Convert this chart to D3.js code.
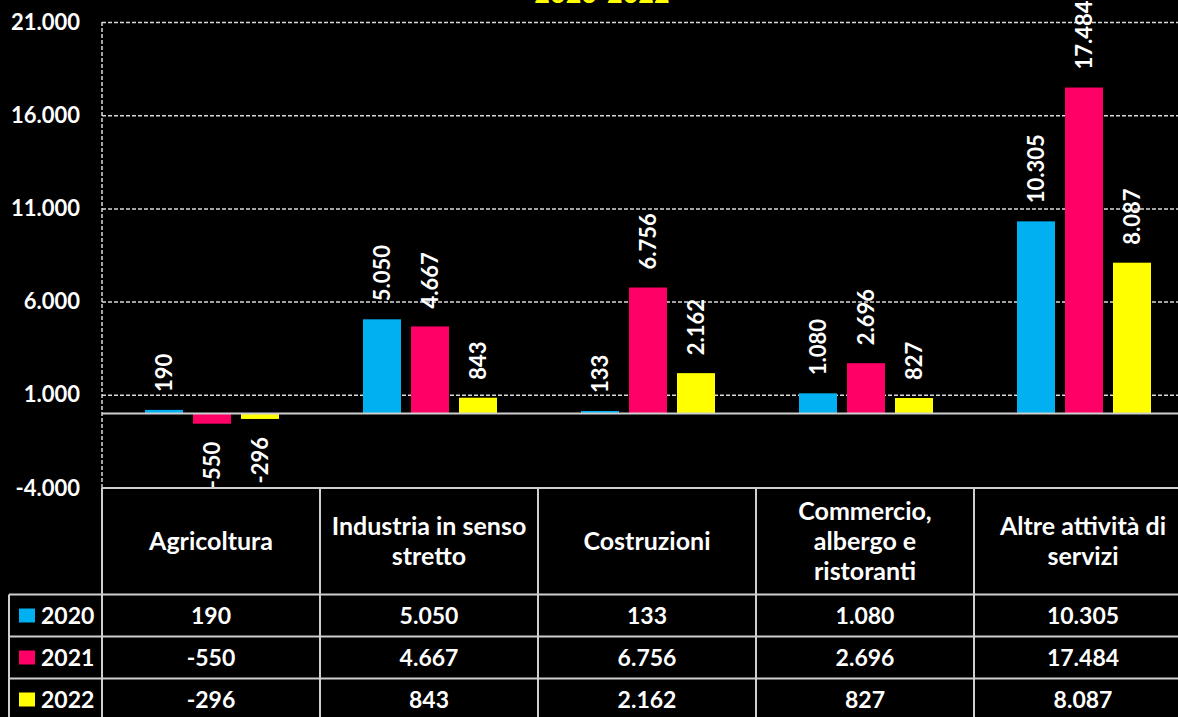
<!DOCTYPE html>
<html>
<head>
<meta charset="utf-8">
<script src="https://cdn.jsdelivr.net/npm/d3@7"></script>
<style>
  body { margin: 0; background: #000; }
  text { font-family: Lato, "Open Sans", sans-serif; font-weight: bold; fill: #fff; }
</style>
</head>
<body>
<div id="chart"></div>
<script>
// data
var categories = ["Agricoltura", "Industria in senso stretto", "Costruzioni", "Commercio, albergo e ristoranti", "Altre attività di servizi"];
var headerLines = [["Agricoltura"], ["Industria in senso", "stretto"], ["Costruzioni"], ["Commercio,", "albergo e", "ristoranti"], ["Altre attività di", "servizi"]];
var years = ["2020", "2021", "2022"];
var values2020 = [190, 5050, 133, 1080, 10305];
var values2021 = [-550, 4667, 6756, 2696, 17484];
var values2022 = [-296, 843, 2162, 827, 8087];
var yTicks = [-4000, 1000, 6000, 11000, 16000, 21000];
var title = "2020-2022";

var colors = ["#00b0f0", "#ff0066", "#ffff00"];
var w = 1178, h = 717;
var margin = {left: 102, top: 22, bottom: 488};
var colW = 218;
var lineCol = "#cfcfcf";

var series = [values2020, values2021, values2022];
var rows = years.map(function(y, i){ return {year: y, values: series[i], color: colors[i]}; });

var it = d3.formatLocale({decimal: ",", thousands: ".", grouping: [3], currency: ["", "€"], minus: "-"});
var fmt = it.format(",d");

var svg = d3.select("#chart").append("svg")
  .attr("width", w)
  .attr("height", h);

var y = d3.scaleLinear().domain([-4000, 21000]).range([margin.bottom, margin.top]);
var x0 = d3.scaleBand().domain(categories).range([margin.left, margin.left + categories.length * colW]);
var x1 = d3.scaleBand().domain(years).range([43, 177]).paddingInner(10 / 48);

// title (only its last line shows at the top)
svg.append("text")
  .attr("x", 602)
  .attr("y", 3)
  .attr("text-anchor", "middle")
  .style("font-size", "27px")
  .style("fill", "#ffff00")
  .text(title);

// dashed grid
var grid = svg.append("g")
  .attr("transform", "translate(" + margin.left + ",0)")
  .call(d3.axisLeft(y)
    .tickValues(yTicks.filter(function(d){ return d > -4000; }))
    .tickSize(-(w - margin.left))
    .tickFormat(""));
grid.select(".domain").remove();
grid.selectAll("line")
  .attr("stroke", "#d9d9d9")
  .attr("stroke-width", 1.5)
  .attr("stroke-dasharray", "4,2");

// dashed vertical axis
svg.append("line")
  .attr("x1", margin.left).attr("x2", margin.left)
  .attr("y1", margin.top).attr("y2", margin.bottom)
  .attr("stroke", "#d9d9d9")
  .attr("stroke-width", 1.5)
  .attr("stroke-dasharray", "4,2");

// y labels
var yAx = svg.append("g")
  .attr("transform", "translate(" + margin.left + ",0)")
  .call(d3.axisLeft(y).tickValues(yTicks).tickSize(0).tickPadding(22).tickFormat(fmt));
yAx.select(".domain").remove();
yAx.selectAll("text")
  .style("font-size", "22px")
  .style("font-family", "Lato, sans-serif")
  .attr("fill", "#fff");

// bars
var barGroups = svg.selectAll(".series")
  .data(rows)
  .enter()
  .append("g")
  .attr("class", "series");

barGroups.selectAll("rect")
  .data(function(r){ return r.values.map(function(v, i){ return {cat: categories[i], year: r.year, v: v, color: r.color}; }); })
  .enter()
  .append("rect")
  .attr("x", function(d){ return x0(d.cat) + x1(d.year); })
  .attr("y", function(d){ return y(Math.max(0, d.v)); })
  .attr("width", x1.bandwidth())
  .attr("height", function(d){ return Math.abs(y(d.v) - y(0)); })
  .attr("fill", function(d){ return d.color; });

// zero line
svg.append("line")
  .attr("x1", margin.left).attr("x2", w)
  .attr("y1", y(0)).attr("y2", y(0))
  .attr("stroke", lineCol)
  .attr("stroke-width", 2);

// value labels, rotated
barGroups.selectAll(".lbl")
  .data(function(r){ return r.values.map(function(v, i){ return {cat: categories[i], year: r.year, v: v}; }); })
  .enter()
  .append("text")
  .attr("class", "lbl")
  .attr("transform", function(d){
    var cx = x0(d.cat) + x1(d.year) + x1.bandwidth() / 2;
    var yy = d.v >= 0 ? y(d.v) - 18 : y(d.v) + 18;
    return "translate(" + cx + "," + yy + ") rotate(-90)";
  })
  .attr("text-anchor", function(d){ return d.v >= 0 ? "start" : "end"; })
  .attr("dy", "0.36em")
  .style("font-size", "22px")
  .text(function(d){ return fmt(d.v); });

// data table
var rowH = 42, rowTop = 594.5;
var rowY = d3.scaleBand().domain(years).range([rowTop, rowTop + years.length * rowH]);
var table = svg.append("g");

table.append("line")
  .attr("x1", margin.left).attr("x2", w)
  .attr("y1", margin.bottom).attr("y2", margin.bottom)
  .attr("stroke", lineCol).attr("stroke-width", 2);

table.selectAll(".hrow")
  .data(years.concat(["end"]))
  .enter()
  .append("line")
  .attr("x1", 9).attr("x2", w)
  .attr("y1", function(d, i){ return rowTop + i * rowH; })
  .attr("y2", function(d, i){ return rowTop + i * rowH; })
  .attr("stroke", lineCol).attr("stroke-width", 2);

table.selectAll(".vcol")
  .data(categories.concat(["end"]))
  .enter()
  .append("line")
  .attr("x1", function(d, i){ return margin.left + i * colW; })
  .attr("x2", function(d, i){ return margin.left + i * colW; })
  .attr("y1", margin.bottom).attr("y2", h)
  .attr("stroke", lineCol).attr("stroke-width", 2);

table.append("line")
  .attr("x1", 9).attr("x2", 9)
  .attr("y1", rowTop).attr("y2", h)
  .attr("stroke", lineCol).attr("stroke-width", 2);

// header cells
categories.forEach(function(c, i){
  var lines = headerLines[i];
  var cy = (margin.bottom + rowTop) / 2;
  table.selectAll(null)
    .data(lines)
    .enter()
    .append("text")
    .attr("x", x0(c) + colW / 2)
    .attr("y", function(d, j){ return cy + (j - (lines.length - 1) / 2) * 30; })
    .attr("dy", "0.36em")
    .attr("text-anchor", "middle")
    .style("font-size", "25px")
    .text(function(d){ return d; });
});

// legend keys and values
rows.forEach(function(r){
  var top = rowY(r.year);
  table.append("rect")
    .attr("x", 19).attr("y", top + 14)
    .attr("width", 16).attr("height", 14)
    .attr("fill", r.color);
  table.append("text")
    .attr("x", 41).attr("y", top + rowH / 2)
    .attr("dy", "0.36em")
    .style("font-size", "23px")
    .text(r.year);
  table.selectAll(null)
    .data(r.values)
    .enter()
    .append("text")
    .attr("x", function(d, i){ return x0(categories[i]) + colW / 2; })
    .attr("y", top + rowH / 2)
    .attr("dy", "0.36em")
    .attr("text-anchor", "middle")
    .style("font-size", "23px")
    .text(function(d){ return fmt(d); });
});
</script>
</body>
</html>
